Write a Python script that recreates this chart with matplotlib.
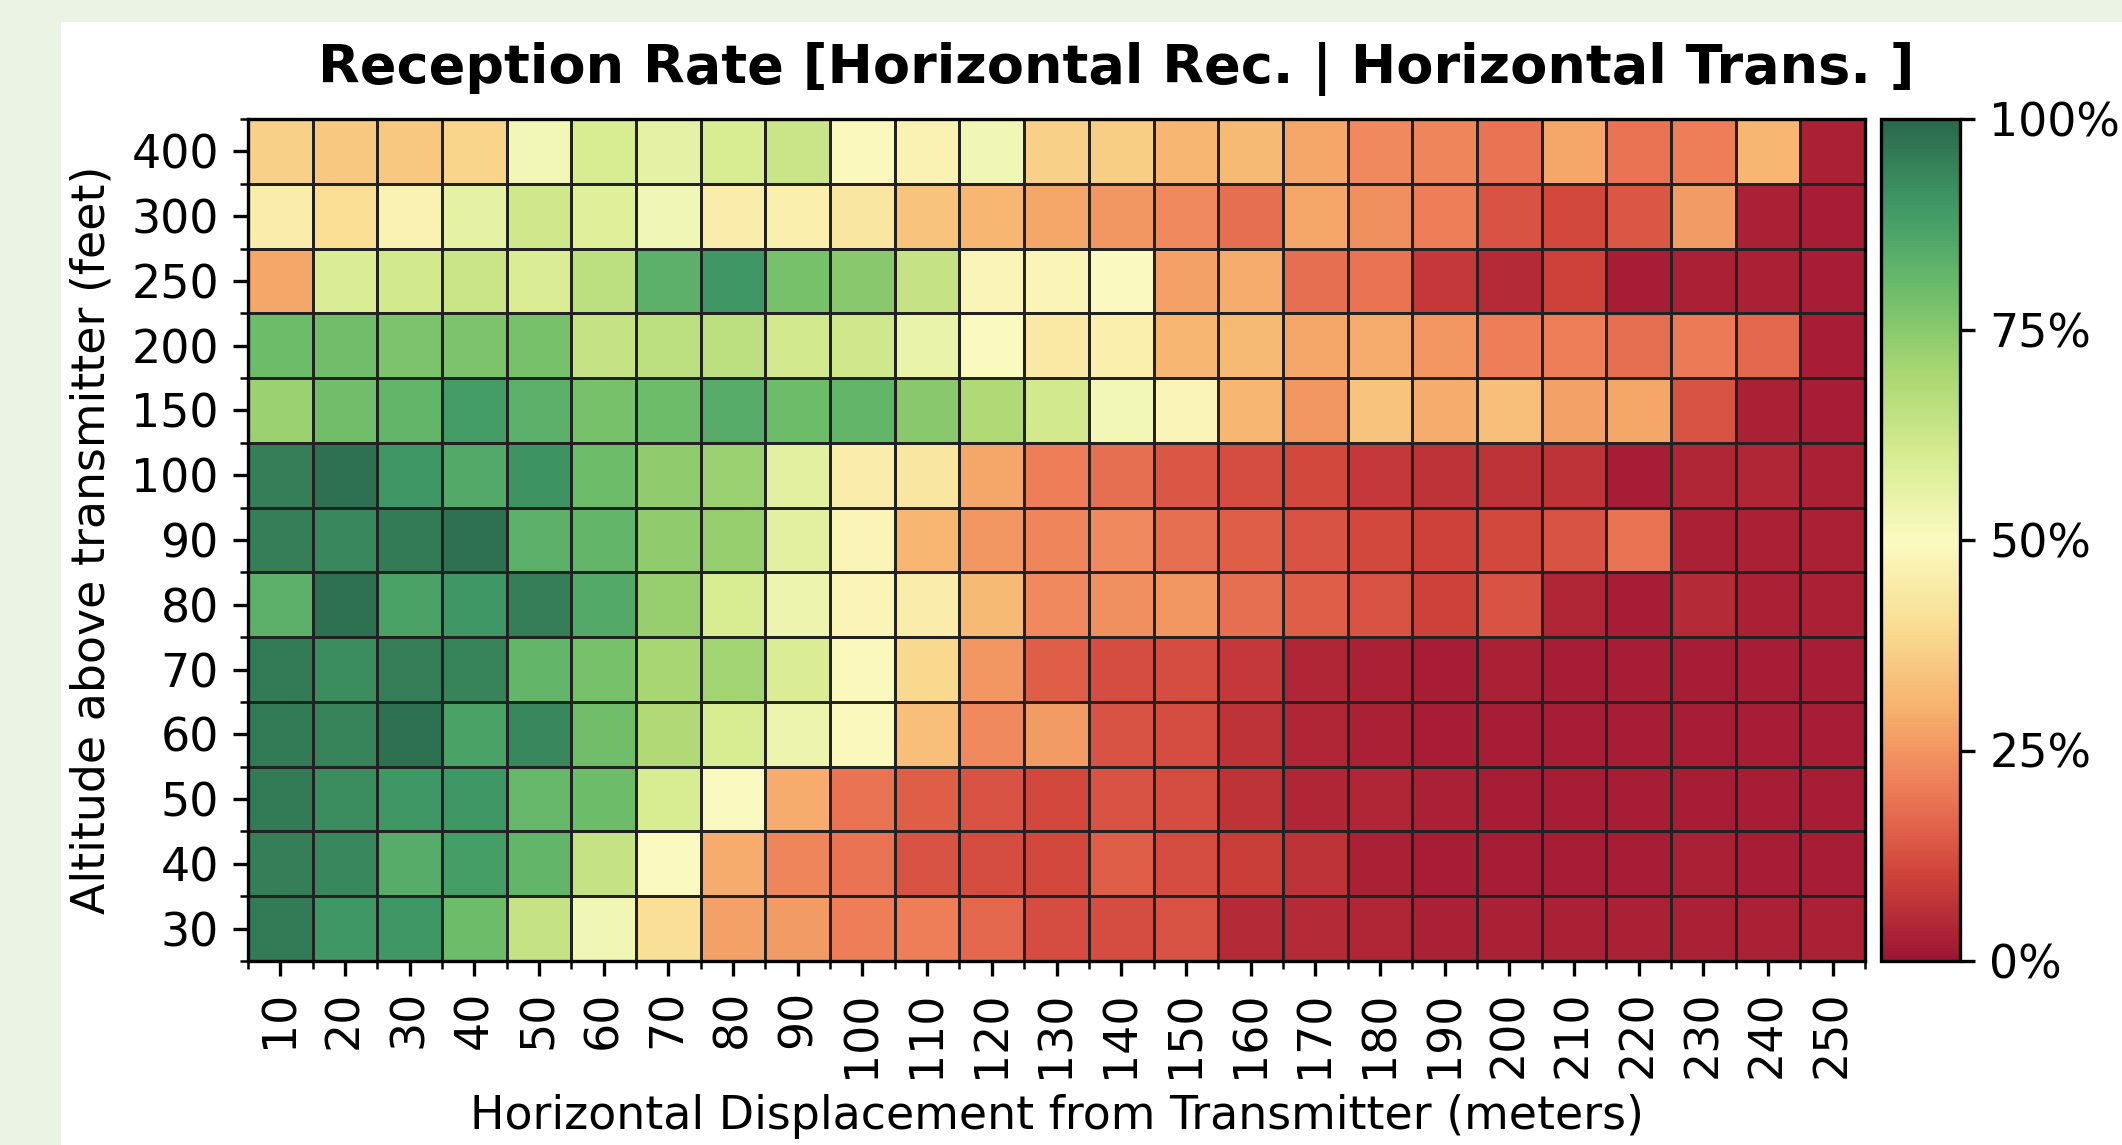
import numpy as np
import matplotlib
matplotlib.use("Agg")
import matplotlib.pyplot as plt
from matplotlib.patches import Rectangle
from matplotlib.colors import ListedColormap, rgb_to_hsv, hsv_to_rgb
from matplotlib.ticker import FixedLocator, PercentFormatter

# distances (meters) and altitudes (feet), top row first
distances = [10, 20, 30, 40, 50, 60, 70, 80, 90, 100, 110, 120, 130,
             140, 150, 160, 170, 180, 190, 200, 210, 220, 230, 240, 250]
altitudes = [400, 300, 250, 200, 150, 100, 90, 80, 70, 60, 50, 40, 30]

# reception rate (0..1) per altitude row
rate_400 = [0.37, 0.35, 0.35, 0.38, 0.52, 0.60, 0.56, 0.60, 0.63, 0.49, 0.47, 0.53, 0.37,
            0.36, 0.31, 0.32, 0.28, 0.23, 0.22, 0.19, 0.28, 0.19, 0.21, 0.31, 0.03]
rate_300 = [0.45, 0.40, 0.47, 0.56, 0.62, 0.58, 0.53, 0.45, 0.46, 0.43, 0.34, 0.31, 0.28,
            0.25, 0.23, 0.18, 0.28, 0.24, 0.21, 0.13, 0.11, 0.14, 0.26, 0.03, 0.02]
rate_250 = [0.28, 0.59, 0.61, 0.63, 0.59, 0.66, 0.83, 0.90, 0.78, 0.75, 0.64, 0.48, 0.48,
            0.50, 0.27, 0.29, 0.18, 0.19, 0.08, 0.05, 0.10, 0.02, 0.03, 0.03, 0.02]
rate_200 = [0.80, 0.79, 0.77, 0.77, 0.78, 0.64, 0.66, 0.66, 0.61, 0.62, 0.55, 0.50, 0.44,
            0.46, 0.31, 0.32, 0.28, 0.29, 0.25, 0.21, 0.21, 0.18, 0.20, 0.17, 0.02]
rate_150 = [0.72, 0.79, 0.82, 0.89, 0.83, 0.78, 0.80, 0.84, 0.80, 0.82, 0.75, 0.68, 0.61,
            0.52, 0.48, 0.31, 0.25, 0.34, 0.29, 0.33, 0.27, 0.28, 0.13, 0.03, 0.02]
rate_100 = [0.95, 0.98, 0.90, 0.85, 0.91, 0.80, 0.74, 0.72, 0.57, 0.45, 0.43, 0.28, 0.21,
            0.18, 0.14, 0.12, 0.11, 0.08, 0.07, 0.07, 0.07, 0.02, 0.04, 0.04, 0.03]
rate_90 = [0.95, 0.93, 0.96, 0.98, 0.83, 0.82, 0.74, 0.73, 0.57, 0.48, 0.31, 0.25, 0.22,
           0.23, 0.18, 0.15, 0.13, 0.11, 0.10, 0.11, 0.13, 0.19, 0.03, 0.03, 0.03]
rate_80 = [0.83, 0.98, 0.87, 0.90, 0.95, 0.85, 0.73, 0.60, 0.54, 0.48, 0.45, 0.32, 0.23,
           0.24, 0.25, 0.18, 0.15, 0.13, 0.10, 0.13, 0.04, 0.02, 0.05, 0.03, 0.03]
rate_70 = [0.96, 0.92, 0.95, 0.94, 0.82, 0.78, 0.70, 0.71, 0.59, 0.49, 0.39, 0.25, 0.15,
           0.12, 0.12, 0.08, 0.04, 0.03, 0.02, 0.03, 0.02, 0.02, 0.02, 0.02, 0.02]
rate_60 = [0.96, 0.94, 0.98, 0.87, 0.93, 0.79, 0.68, 0.60, 0.54, 0.49, 0.33, 0.23, 0.26,
           0.13, 0.12, 0.07, 0.04, 0.03, 0.02, 0.02, 0.02, 0.02, 0.02, 0.02, 0.02]
rate_50 = [0.96, 0.92, 0.90, 0.90, 0.81, 0.80, 0.60, 0.50, 0.29, 0.19, 0.15, 0.13, 0.11,
           0.13, 0.12, 0.07, 0.04, 0.04, 0.03, 0.02, 0.02, 0.02, 0.02, 0.02, 0.02]
rate_40 = [0.95, 0.93, 0.84, 0.88, 0.82, 0.64, 0.50, 0.29, 0.22, 0.19, 0.13, 0.12, 0.11,
           0.15, 0.12, 0.09, 0.07, 0.03, 0.02, 0.02, 0.02, 0.02, 0.03, 0.02, 0.02]
rate_30 = [0.96, 0.90, 0.90, 0.80, 0.64, 0.53, 0.41, 0.27, 0.26, 0.21, 0.21, 0.17, 0.12,
           0.12, 0.13, 0.05, 0.05, 0.04, 0.03, 0.03, 0.03, 0.03, 0.03, 0.03, 0.03]

rates = np.array([rate_400, rate_300, rate_250, rate_200, rate_150, rate_100, rate_90,
                  rate_80, rate_70, rate_60, rate_50, rate_40, rate_30])

# RdYlGn, a bit washed out like the screenshot
pos = np.linspace(0, 1, 256)
hsv = rgb_to_hsv(plt.get_cmap('RdYlGn')(pos)[:, :3])
hsv[:, 1] *= np.interp(pos, [0, 0.2, 0.5, 0.8, 0.9, 1.0], [0.87, 0.88, 0.92, 0.92, 0.7, 0.6])
hsv[:, 2] *= np.interp(pos, [0, 0.15, 1.0], [0.95, 0.97, 1.0])
cmap = ListedColormap(hsv_to_rgb(hsv))

W, H = 2122, 1145
fig = plt.figure(figsize=(W / 300, H / 300), dpi=300, facecolor='white')
# light green frame on the left and top
green = '#ebf4e4'
fig.patches.append(Rectangle((0, 0), 61 / W, 1, transform=fig.transFigure,
                             facecolor=green, edgecolor='none', zorder=-1))
fig.patches.append(Rectangle((0, 1 - 22 / H), 1, 22 / H, transform=fig.transFigure,
                             facecolor=green, edgecolor='none', zorder=-1))

ax = fig.add_axes([248 / W, 1 - 961 / H, (1865 - 248) / W, (961 - 119) / H])
cax = fig.add_axes([1881 / W, 1 - 961 / H, (1960 - 1881) / W, (961 - 119) / H])

mesh = ax.pcolormesh(rates, cmap=cmap, vmin=0, vmax=1,
                     edgecolors='#222222', linewidth=0.35)
ax.set_xlim(0, len(distances))
ax.set_ylim(len(altitudes), 0)

ax.set_xticks(np.arange(len(distances)) + 0.5)
ax.set_xticklabels([str(d) for d in distances], rotation=90)
ax.set_yticks(np.arange(len(altitudes)) + 0.5)
ax.set_yticklabels([str(a) for a in altitudes])
ax.xaxis.set_minor_locator(FixedLocator(np.arange(len(distances) + 1)))
ax.yaxis.set_minor_locator(FixedLocator(np.arange(len(altitudes) + 1)))
ax.tick_params(which='major', labelsize=11)

ax.set_xlabel('Horizontal Displacement from Transmitter (meters)', fontsize=11)
ax.set_ylabel('Altitude above transmitter (feet)', fontsize=11)

cb = fig.colorbar(mesh, cax=cax)
cb.set_ticks([0, 0.25, 0.5, 0.75, 1.0])
cb.ax.yaxis.set_major_formatter(PercentFormatter(xmax=1, decimals=0))
cb.ax.tick_params(labelsize=11)
cb.outline.set_linewidth(0.8)

fig.text(0.526, 0.94, 'Reception Rate [Horizontal Rec. | Horizontal Trans. ]',
         ha='center', va='center', fontsize=13, fontweight='bold')

fig.savefig('out.png', dpi=300)
